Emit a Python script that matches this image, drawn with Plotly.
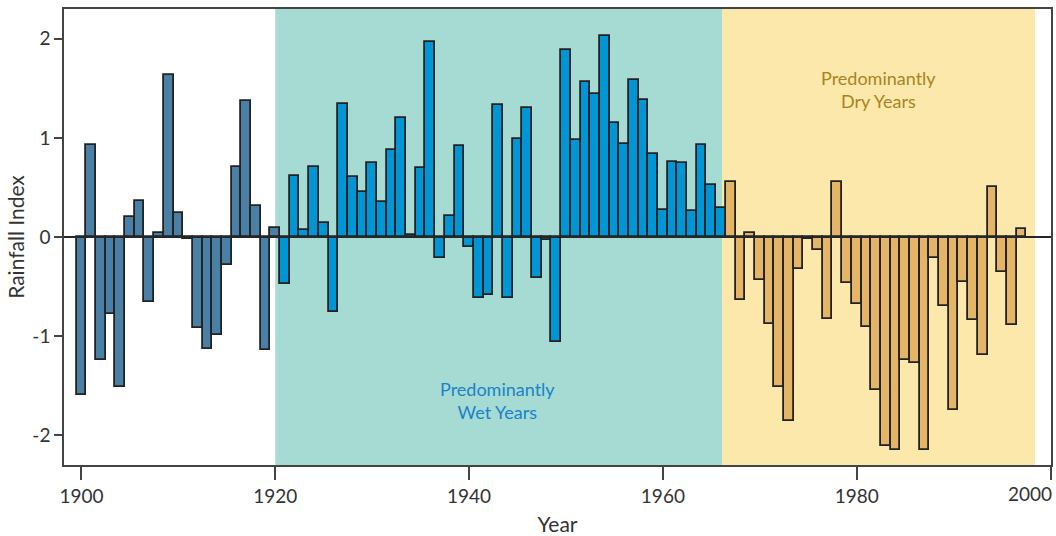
import plotly.graph_objects as go

years = list(range(1900, 1998))
rainfall = [
    -1.59, 0.93, -1.24, -0.78, -1.51, 0.20, 0.36, -0.66, 0.04, 1.63,
    0.24, -0.02, -0.92, -1.13, -0.99, -0.28, 0.71, 1.37, 0.31, -1.14,
    0.09, -0.47, 0.62, 0.07, 0.71, 0.14, -0.76, 1.34, 0.61, 0.45,
    0.75, 0.35, 0.875, 1.20, 0.02, 0.70, 1.97, -0.21, 0.21, 0.92,
    -0.10, -0.62, -0.58, 1.33, -0.62, 0.99, 1.30, -0.41, -0.03, -1.06,
    1.89, 0.98, 1.56, 1.44, 2.03, 1.15, 0.94, 1.58, 1.38, 0.835,
    0.27, 0.76, 0.745, 0.26, 0.925, 0.52, 0.29, 0.555, -0.64, 0.04,
    -0.43, -0.88, -1.51, -1.86, -0.32, -0.02, -0.13, -0.83, 0.555, -0.46,
    -0.675, -0.905, -1.54, -2.11, -2.15, -1.24, -1.27, -2.15, -0.21, -0.70,
    -1.75, -0.45, -0.84, -1.19, 0.50, -0.35, -0.89, 0.077,
]

early_end = 1920      # last year of early period
wet_end = 1966        # last year of wet period
wet_band = (1920.0, 1966.1)
dry_band = (1966.1, 1998.4)
x_ticks = [1900, 1920, 1940, 1960, 1980, 2000]
y_ticks = [-2, -1, 0, 1, 2]

col_early = "#4a80a6"
col_wet = "#0096d6"
col_dry = "#e4b467"

def pick(cond):
    xs = [y for y in years if cond(y)]
    vs = [v for y, v in zip(years, rainfall) if cond(y)]
    return xs, vs

FONT = "Lato, 'Open Sans', sans-serif"

fig = go.Figure()
for cond, col in [
    (lambda y: y <= early_end, col_early),
    (lambda y: early_end < y <= wet_end, col_wet),
    (lambda y: y > wet_end, col_dry),
]:
    xs, vs = pick(cond)
    fig.add_trace(go.Bar(
        x=xs, y=vs, width=1.0,
        marker=dict(color=col, line=dict(color="#222222", width=1.8)),
        showlegend=False, hoverinfo="x+y",
    ))

fig.add_shape(type="rect", xref="x", yref="paper", x0=wet_band[0], x1=wet_band[1],
              y0=0, y1=1, fillcolor="#a6dbd3", line_width=0, layer="below")
fig.add_shape(type="rect", xref="x", yref="paper", x0=dry_band[0], x1=dry_band[1],
              y0=0, y1=1, fillcolor="#fde8ab", line_width=0, layer="below")
fig.add_shape(type="line", xref="paper", yref="y", x0=0, x1=1, y0=0, y1=0,
              line=dict(color="#262626", width=1.8), layer="above")

fig.add_annotation(x=1942.9, y=-1.65, xref="x", yref="y",
                   text="Predominantly<br>Wet Years", showarrow=False,
                   font=dict(family=FONT, size=18, color="#1a82c9"))
fig.add_annotation(x=1982.3, y=1.49, xref="x", yref="y",
                   text="Predominantly<br>Dry Years", showarrow=False,
                   font=dict(family=FONT, size=18, color="#a8841f"))

# last tick label sits at the right edge: drawn right-aligned so it stays inside
last_tick = x_ticks[-1]
tick_text = [str(t) for t in x_ticks[:-1]] + [""]
fig.add_annotation(x=last_tick, y=0, xref="x", yref="paper",
                   xanchor="right", yanchor="top", xshift=3, yshift=-15,
                   text=str(last_tick), showarrow=False,
                   font=dict(family=FONT, size=19, color="#333333"))

fig.update_layout(
    width=1056, height=536,
    margin=dict(l=64, r=5, t=9, b=71, autoexpand=False),
    paper_bgcolor="white", plot_bgcolor="white",
    bargap=0,
    font=dict(family=FONT, size=18, color="#333333"),
    xaxis=dict(
        range=[1898.2, 2000.05], tickvals=x_ticks, ticktext=tick_text,
        ticks="outside", ticklen=13, tickwidth=1.5, tickcolor="#444",
        showline=True, linecolor="#444", linewidth=1.5, mirror=True,
        showgrid=False, zeroline=False, automargin=False,
        title=dict(text="Year", font=dict(size=21)),
        tickfont=dict(size=19),
    ),
    yaxis=dict(
        range=[-2.3, 2.3], tickvals=y_ticks, ticktext=[str(t) for t in y_ticks],
        ticks="outside", ticklen=8, tickwidth=1.5, tickcolor="#444",
        showline=True, linecolor="#444", linewidth=1.5, mirror=True,
        showgrid=False, zeroline=False, automargin=True,
        title=dict(text="Rainfall Index", font=dict(size=21), standoff=2),
        tickfont=dict(size=19),
    ),
)

fig.write_html("out.html", config={"displayModeBar": False},
               post_script="document.body.style.margin='0';")
